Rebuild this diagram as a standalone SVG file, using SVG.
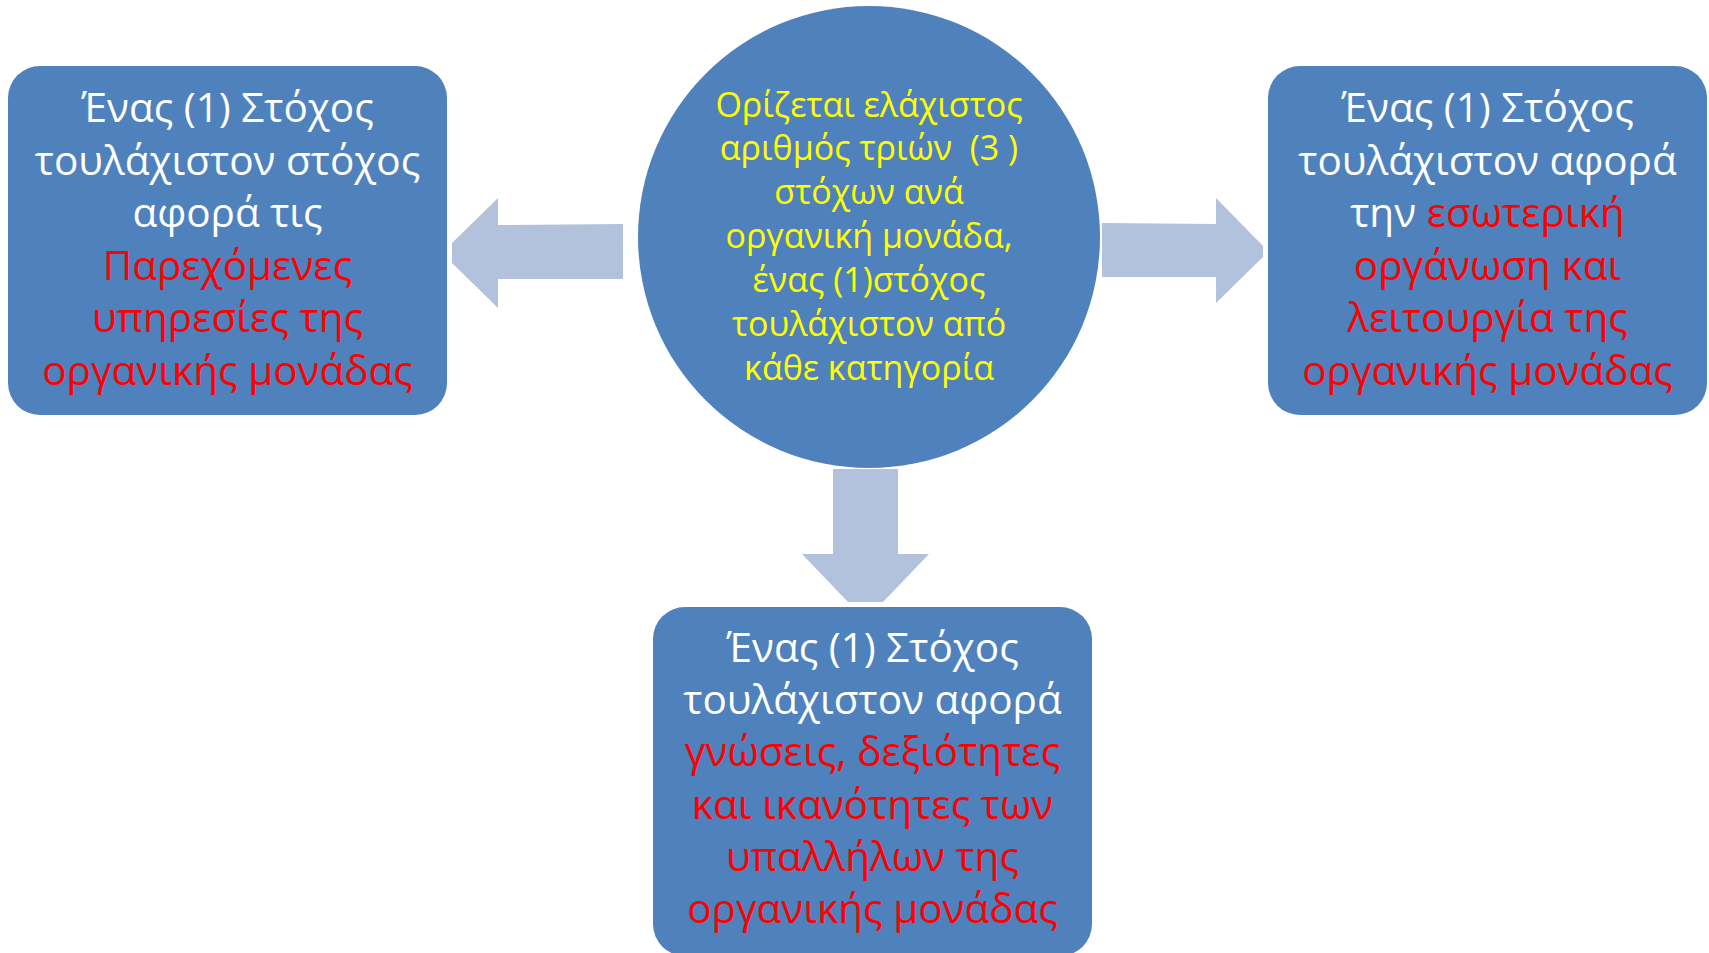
<svg xmlns="http://www.w3.org/2000/svg" width="1709" height="953" viewBox="0 0 1709 953">
<style>
.box{fill:#4F81BD;}
.arr{fill:#B3C2DC;}
.t{font-family:"Open Sans","Noto Sans",sans-serif;font-size:40.5px;text-anchor:middle;fill:#FFFFFF;}
.r{fill:#FF0000;}
.c{font-family:"Open Sans","Noto Sans",sans-serif;font-size:34px;text-anchor:middle;fill:#FFFF00;}
</style>
<rect width="1709" height="953" fill="#FFFFFF"/>
<g id="connectors">
<polygon class="arr" points="623,224 498,225 498,198 452,243 452,263 498,308 498,279 623,279"/>
<polygon class="arr" points="1102,223 1216,224 1216,198 1263,246 1263,257 1216,303 1216,277 1102,277"/>
<polygon class="arr" points="833,469 898,469 898,554 929,554 883,602 848,602 802,554 833,554"/>
</g>
<g id="center">
<circle class="box" cx="869" cy="237" r="231"/>
<text class="c" x="869" y="117">Ορίζεται ελάχιστος</text>
<text class="c" x="869" y="160">αριθμός τριών &#160;(3 )</text>
<text class="c" x="869" y="204">στόχων ανά</text>
<text class="c" x="869" y="248">οργανική μονάδα,</text>
<text class="c" x="869" y="292">ένας (1)στόχος</text>
<text class="c" x="869" y="336">τουλάχιστον από</text>
<text class="c" x="869" y="380">κάθε κατηγορία</text>
</g>
<g id="left">
<rect class="box" x="8" y="66" width="439" height="349" rx="32"/>
<text class="t" x="227.5" y="122">Ένας (1) Στόχος</text>
<text class="t" x="227.5" y="174.6">τουλάχιστον στόχος</text>
<text class="t" x="227.5" y="227.2">αφορά τις</text>
<text class="t r" x="227.5" y="279.8">Παρεχόμενες</text>
<text class="t r" x="227.5" y="332.4">υπηρεσίες της</text>
<text class="t r" x="227.5" y="385">οργανικής μονάδας</text>
</g>
<g id="right">
<rect class="box" x="1268" y="66" width="439" height="349" rx="32"/>
<text class="t" x="1487.5" y="122">Ένας (1) Στόχος</text>
<text class="t" x="1487.5" y="174.6">τουλάχιστον αφορά</text>
<text class="t" x="1487.5" y="227.2">την <tspan class="r">εσωτερική</tspan></text>
<text class="t r" x="1487.5" y="279.8">οργάνωση και</text>
<text class="t r" x="1487.5" y="332.4">λειτουργία της</text>
<text class="t r" x="1487.5" y="385">οργανικής μονάδας</text>
</g>
<g id="bottom">
<rect class="box" x="653" y="607" width="439" height="349" rx="32"/>
<text class="t" x="872.5" y="662">Ένας (1) Στόχος</text>
<text class="t" x="872.5" y="714.2">τουλάχιστον αφορά</text>
<text class="t r" x="872.5" y="766.4">γνώσεις, δεξιότητες</text>
<text class="t r" x="872.5" y="818.6">και ικανότητες των</text>
<text class="t r" x="872.5" y="870.8">υπαλλήλων της</text>
<text class="t r" x="872.5" y="923">οργανικής μονάδας</text>
</g>
</svg>
